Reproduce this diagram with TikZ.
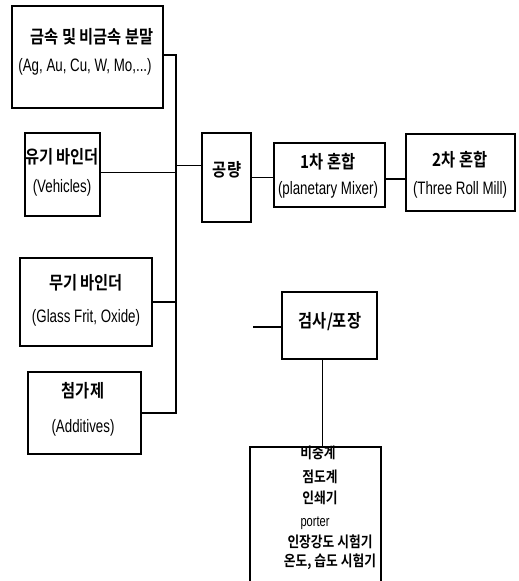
\documentclass[tikz,border=0pt]{standalone}
\usepackage{fontspec}
\setmainfont{Liberation Sans}
\newfontfamily\kr{Noto Sans CJK KR}[BoldFont={Noto Sans CJK KR Bold}]
\newcommand{\latn}[1]{\scalebox{0.74}[1]{#1}}
\newcommand{\kt}[1]{\scalebox{0.85}[1]{\kr\bfseries #1}}
\tikzset{
  box/.style={draw=black, line width=1.4pt, fill=white, inner sep=0pt},
  lbl/.style={align=center, font=\fontsize{18}{22}\selectfont, inner sep=0pt},
  small/.style={align=center, font=\fontsize{15}{18}\selectfont, inner sep=0pt},
  conn/.style={draw=black, line width=1.4pt}
}
\begin{document}
\begin{tikzpicture}[x=1pt,y=-1pt]
\useasboundingbox (0,0) rectangle (519,581);
\clip (0,0) rectangle (519,581);
\fill[white] (0,0) rectangle (519,581);
% boxes
\node[box, minimum width=151pt, minimum height=102pt] (metal) at (87.5,57) {};
\node[box, minimum width=75pt, minimum height=83pt] (org) at (62.5,174.5) {};
\node[box, minimum width=132pt, minimum height=88pt] (inorg) at (86,302) {};
\node[box, minimum width=113pt, minimum height=82pt] (add) at (84.5,413) {};
\node[box, minimum width=49pt, minimum height=89pt] (weigh) at (226.5,177.5) {};
\node[box, minimum width=111pt, minimum height=64pt] (mixa) at (329.5,175) {};
\node[box, minimum width=109pt, minimum height=77pt] (mixb) at (460.5,172.5) {};
\node[box, minimum width=95pt, minimum height=67pt] (insp) at (329.5,325.5) {};
\node[box, minimum width=131pt, minimum height=163pt] (tools) at (315.5,528.5) {};
% texts
\node[lbl] (metalA) at (92,37) {\kt{금속 및 비금속 분말}};
\node[lbl] (metalB) at (85,67) {\latn{(Ag, Au, Cu, W, Mo,...)}};
\node[lbl] (orgA) at (62,157) {\kt{유기 바인더}};
\node[lbl] (orgB) at (62,188) {\latn{(Vehicles)}};
\node[lbl] (inorgA) at (86,283) {\kt{무기 바인더}};
\node[lbl] (inorgB) at (86,318) {\latn{(Glass Frit, Oxide)}};
\node[lbl] (addA) at (83,391) {\kt{첨가제}};
\node[lbl] (addB) at (83,428) {\latn{(Additives)}};
\node[lbl] (weighA) at (227,170) {\kt{공량}};
\node[lbl] (mixaA) at (328,162) {\kt{1차 혼합}};
\node[lbl] (mixaB) at (328,190) {\latn{(planetary Mixer)}};
\node[lbl] (mixbA) at (460,160) {\kt{2차 혼합}};
\node[lbl] (mixbB) at (460,190) {\latn{(Three Roll Mill)}};
\node[lbl] (inspA) at (330,322) {\kt{검사/포장}};
\node[small] (t1) at (318,453) {\kt{비중계}};
\node[small] (t2) at (320,477) {\kt{점도계}};
\node[small] (t3) at (320,498) {\kt{인쇄기}};
\node[small] (t4) at (315,523) {\latn{porter}};
\node[small] (t5) at (330,542) {\kt{인장강도 시험기}};
\node[small] (t6) at (330,562) {\kt{온도, 습도 시험기}};
% connectors
\coordinate (sp) at (176,0);
\coordinate (stub) at (253,327);
\draw[conn] ([yshift=2pt]metal.east) -- ([yshift=2pt]metal.east -| sp) -- (add.east -| sp) -- (add.east);
\draw[conn] ([yshift=2pt]org.east) -- ([yshift=2pt]org.east -| sp);
\draw[conn] (inorg.east) -- (inorg.east -| sp);
\draw[conn] ([yshift=12pt]weigh.west) -- ([yshift=12pt]weigh.west -| sp);
\draw[conn] (weigh.east) -- (weigh.east -| mixa.west);
\draw[conn] ([yshift=-4pt]mixa.east) -- ([yshift=-4pt]mixa.east -| mixb.west);
\draw[conn] (stub) -- (stub -| insp.west);
\draw[conn] ([xshift=-7pt]insp.south) -- ([xshift=-7pt]insp.south |- tools.north);
\end{tikzpicture}
\end{document}
